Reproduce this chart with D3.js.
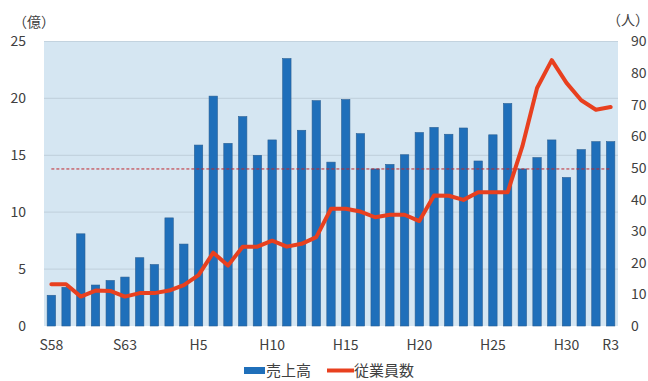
<!DOCTYPE html>
<html><head><meta charset="utf-8">
<script src="https://cdn.jsdelivr.net/npm/d3@7"></script>
<style>body{margin:0;background:#fff}svg{display:block}</style>
</head><body><svg id="c" width="648" height="381"></svg>
<script>
const years = ["S58","S59","S60","S61","S62","S63","H1","H2","H3","H4","H5","H6","H7","H8","H9","H10","H11","H12","H13","H14","H15","H16","H17","H18","H19","H20","H21","H22","H23","H24","H25","H26","H27","H28","H29","H30","R1","R2","R3"];
const sales = [2.7,3.4,8.1,3.6,4.0,4.3,6.0,5.4,9.5,7.2,15.9,20.2,16.05,18.4,15.0,16.35,23.5,17.2,19.8,14.4,19.9,16.9,13.8,14.2,15.05,17.0,17.45,16.85,17.4,14.5,16.8,19.55,13.8,14.8,16.35,13.05,15.5,16.2,16.2];
const employees = [13.2,13.2,9.3,11.2,11.1,9.3,10.4,10.4,11.2,12.9,16.1,23.2,19.1,25.1,25.1,27.0,25.1,26.0,28.1,37.1,37.1,36.2,34.4,35.2,35.2,33.2,41.3,41.2,39.9,42.3,42.3,42.3,56.8,75.3,84.1,76.9,71.4,68.4,69.3];
const averageSales = 13.8;
const xTickLabels = ["S58","S63","H5","H10","H15","H20","H25","H30","R3"];
const leftTicks = [0,5,10,15,20,25];
const rightTicks = [0,10,20,30,40,50,60,70,80,90];
const legendLabels = ["売上高","従業員数"];

const svg = d3.select("#c");
const font = "'Noto Sans CJK JP','Noto Sans',sans-serif";
const m = {l:44, r:618, t:41.5, b:326};
const x = d3.scaleBand().domain(years).range([m.l, m.r]).paddingInner(0.43).paddingOuter(0.215);
const y = d3.scaleLinear().domain([0,25]).range([m.b, m.t]);
const y2 = d3.scaleLinear().domain([0,90]).range([m.b, m.t]);
const cx = d => x(d) + x.bandwidth()/2;

svg.append("rect").attr("x", m.l).attr("y", m.t).attr("width", m.r-m.l).attr("height", m.b-m.t).attr("fill", "#d5e6f2");

svg.append("g").selectAll("line").data(leftTicks.slice(1)).join("line")
  .attr("x1", m.l).attr("x2", m.r).attr("y1", d=>y(d)).attr("y2", d=>y(d))
  .attr("stroke", "#c3d3df").attr("stroke-width", 1.2);

svg.append("g").selectAll("rect").data(years).join("rect")
  .attr("x", d=>x(d)).attr("width", x.bandwidth())
  .attr("y", (d,i)=>y(sales[i])).attr("height", (d,i)=>y(0)-y(sales[i]))
  .attr("fill", "#1f6fba").attr("stroke", "#2a5f93").attr("stroke-width", 0.6);

svg.append("line").attr("x1", cx(years[0])).attr("x2", cx(years[years.length-1]))
  .attr("y1", y(averageSales)).attr("y2", y(averageSales))
  .attr("stroke", "#c0272d").attr("stroke-width", 1).attr("stroke-dasharray", "3,2");

const line = d3.line().x((d,i)=>cx(years[i])).y(d=>y2(d));
svg.append("path").datum(employees).attr("d", line).attr("fill","none")
  .attr("stroke", "#e8401f").attr("stroke-width", 4).attr("stroke-linejoin","round").attr("stroke-linecap","round");

const la = svg.append("g").attr("transform", `translate(${m.l},0)`)
  .call(d3.axisLeft(y).tickValues(leftTicks).tickSize(0).tickPadding(18));
la.select(".domain").remove();
la.selectAll("text").attr("font-family", font).attr("font-size", 14).attr("fill", "#404040");

const ra = svg.append("g").attr("transform", `translate(${m.r},0)`)
  .call(d3.axisRight(y2).tickValues(rightTicks).tickSize(0).tickPadding(13));
ra.select(".domain").remove();
ra.selectAll("text").attr("font-family", font).attr("font-size", 14).attr("fill", "#404040");

const xa = svg.append("g").attr("transform", `translate(0,${m.b})`)
  .call(d3.axisBottom(x).tickValues(xTickLabels).tickSize(0).tickPadding(14));
xa.select(".domain").remove();
xa.selectAll("text").attr("font-family", font).attr("font-size", 14).attr("fill", "#404040");

svg.append("text").attr("x", 13).attr("y", 27).text("（億）").attr("font-family", font).attr("font-size", 14).attr("fill","#404040");
svg.append("text").attr("x", 607).attr("y", 25).text("（人）").attr("font-family", font).attr("font-size", 14).attr("fill","#404040");

svg.append("rect").attr("x", 244).attr("y", 367).attr("width", 21).attr("height", 7).attr("fill", "#1f6fba");
svg.append("text").attr("x", 266).attr("y", 376).text(legendLabels[0]).attr("font-family", font).attr("font-size", 15).attr("fill","#404040");
svg.append("line").attr("x1", 327).attr("x2", 354).attr("y1", 370.5).attr("y2", 370.5).attr("stroke", "#e8401f").attr("stroke-width", 4);
svg.append("text").attr("x", 354).attr("y", 376).text(legendLabels[1]).attr("font-family", font).attr("font-size", 15).attr("fill","#404040");
</script></body></html>
